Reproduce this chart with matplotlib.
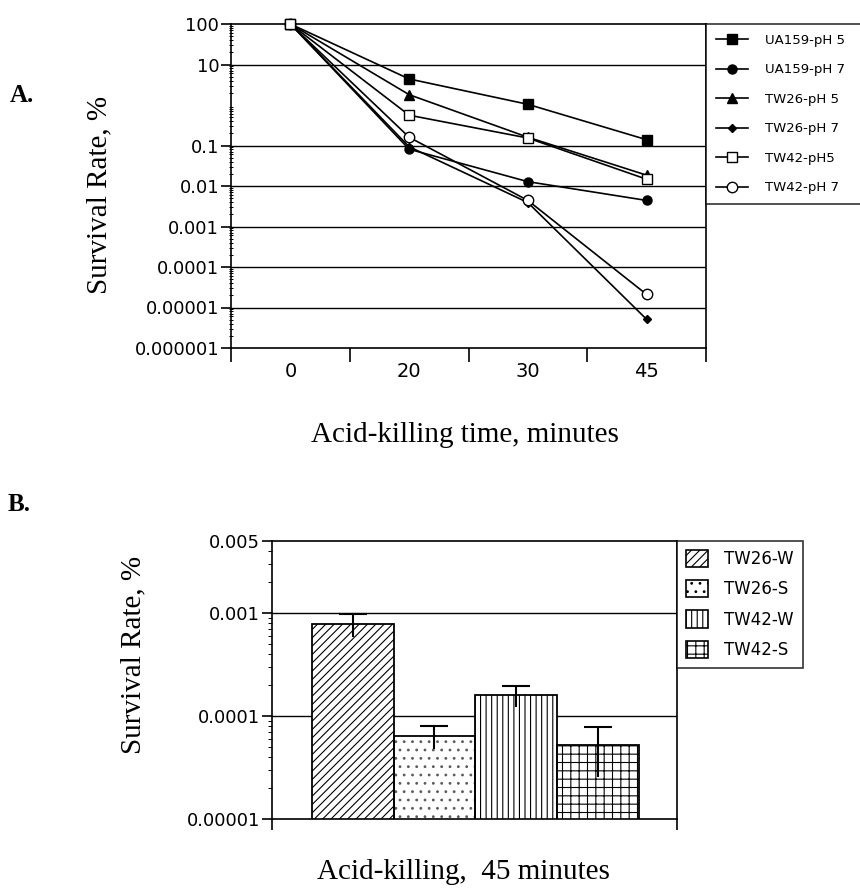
import numpy as np
import matplotlib
matplotlib.use("Agg")
import matplotlib.pyplot as plt
from matplotlib.patches import Patch
from matplotlib.ticker import FixedLocator, NullFormatter

plt.rcParams['font.family'] = 'DejaVu Sans'
plt.rcParams['hatch.linewidth'] = 0.8

##############################
# Donnees - panneau A

temps = ['0', '20', '30', '45']
ua159_ph5 = [100, 4.4, 1.04, 0.139]
ua159_ph7 = [100, 0.081, 0.0128, 0.0044]
tw26_ph5 = [100, 1.8, 0.16, 0.0185]
tw26_ph7 = [100, 0.093, 0.0039, 5.1e-6]
tw42_ph5 = [100, 0.56, 0.153, 0.0147]
tw42_ph7 = [100, 0.16, 0.0044, 2.1e-5]

noms_a = ['UA159-pH 5', 'UA159-pH 7', 'TW26-pH 5', 'TW26-pH 7', 'TW42-pH5', 'TW42-pH 7']

##############################
# Donnees - panneau B

souches = ['TW26-W', 'TW26-S', 'TW42-W', 'TW42-S']
survie_45 = [7.9e-4, 6.4e-5, 1.6e-4, 5.2e-5]
erreur_45 = [2.0e-4, 1.6e-5, 3.6e-5, 2.6e-5]

fig = plt.figure(figsize=(8.6, 8.89), dpi=100)
serif = 'Liberation Serif'

##############################
# Panneau A

ax = fig.add_axes([231/860, 1-348/889, 475/860, 324/889])
x = np.arange(len(temps))
series = [ua159_ph5, ua159_ph7, tw26_ph5, tw26_ph7, tw42_ph7, tw42_ph5]
labels = [noms_a[0], noms_a[1], noms_a[2], noms_a[3], noms_a[5], noms_a[4]]
styles = [('s', 'k', 6.5), ('o', 'k', 6.5), ('^', 'k', 6.5), ('D', 'k', 4.5), ('o', 'white', 7.5), ('s', 'white', 7.5)]
lignes = {}
for ys, lab, (m, fc, ms) in zip(series, labels, styles):
    l, = ax.plot(x, ys, color='k', lw=1.2, marker=m, markerfacecolor=fc,
                 markeredgecolor='k', markeredgewidth=1.0, markersize=ms, label=lab,
                 clip_on=False, zorder=3)
    lignes[lab] = l

ax.set_yscale('log')
ax.set_ylim(1e-6, 100)
ax.set_xlim(-0.5, 3.5)
majeurs = [1e-6, 1e-5, 1e-4, 1e-3, 1e-2, 1e-1, 10, 100]
ax.yaxis.set_major_locator(FixedLocator(majeurs))
ax.set_yticklabels(['0.000001', '0.00001', '0.0001', '0.001', '0.01', '0.1', '10', '100'])
mineurs = [k * 10.0**e for e in range(-6, 2) for k in range(2, 10)]
ax.yaxis.set_minor_locator(FixedLocator(mineurs))
ax.yaxis.set_minor_formatter(NullFormatter())
for g in majeurs[1:-1]:
    ax.axhline(g, color='k', lw=1.0, zorder=0)

ax.set_xticks(x)
ax.set_xticklabels(temps)
ax.set_xticks(np.arange(-0.5, 4, 1), minor=True)
ax.tick_params(axis='x', which='major', length=0, pad=10, labelsize=14)
ax.tick_params(axis='x', which='minor', length=10, width=1.2, direction='out')
ax.tick_params(axis='y', which='major', length=7, width=1.2, direction='out', pad=1.5, labelsize=13)
ax.tick_params(axis='y', which='minor', length=3, width=0.7, direction='inout')
for s in ax.spines.values():
    s.set_linewidth(1.2)

ordre = noms_a
leg = ax.legend([lignes[n] for n in ordre], ordre, loc='upper left',
                bbox_to_anchor=(1.0, 0.0, 0.36, 1.0), mode='expand',
                borderaxespad=0, frameon=True, fancybox=False, fontsize=9.5,
                handlelength=2.4, handletextpad=1.3, labelspacing=1.25, borderpad=0.75)
leg.get_frame().set_edgecolor('k')
leg.get_frame().set_linewidth(1.2)

fig.text(10/860, 1-95/889, 'A.', family=serif, fontweight='bold', fontsize=18, va='center', ha='left')
fig.text(99/860, 1-195/889, 'Survival Rate, %', family=serif, fontsize=21, rotation=90,
         va='center', ha='center')
fig.text(465/860, 1-435/889, 'Acid-killing time, minutes', family=serif, fontsize=21,
         va='center', ha='center')

##############################
# Panneau B

bx = fig.add_axes([272/860, 1-819.3/889, 405/860, 278.3/889])
xb = np.arange(len(souches))
hachures = ['////', '..', '|||', '++']
couleurs_h = ['k', '#5a5a5a', 'k', 'k']
for xi, v, h, c in zip(xb, survie_45, hachures, couleurs_h):
    bx.bar(xi, v, width=1.0, color='white', edgecolor=c, hatch=h, lw=0, zorder=2)
    bx.bar(xi, v, width=1.0, fill=False, edgecolor='k', lw=1.3, zorder=3)

haut = np.array(survie_45) + np.array(erreur_45)
bx.errorbar(xb, survie_45, yerr=erreur_45, fmt='none', ecolor='k', elinewidth=1.5, capsize=0, zorder=4)
bx.plot(xb, haut, ls='none', marker='_', markersize=20, markeredgewidth=1.5, color='k', zorder=4)

bx.set_yscale('log')
bx.set_ylim(1e-5, 5e-3)
bx.set_xlim(-0.99, 3.97)
majeurs_b = [1e-5, 1e-4, 1e-3, 5e-3]
bx.yaxis.set_major_locator(FixedLocator(majeurs_b))
bx.set_yticklabels(['0.00001', '0.0001', '0.001', '0.005'])
mineurs_b = [k * 10.0**e for e in range(-5, -2) for k in range(2, 10)]
bx.yaxis.set_minor_locator(FixedLocator(mineurs_b))
bx.yaxis.set_minor_formatter(NullFormatter())
for g in [1e-4, 1e-3]:
    bx.axhline(g, color='k', lw=1.0, zorder=1)
bx.set_xticks([-0.99, 3.97])
bx.set_xticklabels(['', ''])
bx.tick_params(axis='x', length=8, width=1.2, direction='out')
bx.tick_params(axis='y', which='major', length=7, width=1.2, direction='out', pad=1.5, labelsize=13)
bx.tick_params(axis='y', which='minor', length=3, width=0.7, direction='out')
for s in bx.spines.values():
    s.set_linewidth(1.2)

poignees = [Patch(facecolor='white', edgecolor='k', hatch=h, lw=1.2) for h in hachures]
legb = bx.legend(poignees, souches, loc='upper left', bbox_to_anchor=(1.0, 1.0),
                 borderaxespad=0, frameon=True, fancybox=False, fontsize=12,
                 handlelength=1.3, handleheight=1.2, handletextpad=1.0, labelspacing=0.72,
                 borderpad=0.55)
legb.get_frame().set_edgecolor('k')
legb.get_frame().set_linewidth(1.2)

fig.text(8/860, 1-505/889, 'B.', family=serif, fontweight='bold', fontsize=18, va='center', ha='left')
fig.text(133/860, 1-655/889, 'Survival Rate, %', family=serif, fontsize=21, rotation=90,
         va='center', ha='center')
fig.text(463/860, 1-872/889, 'Acid-killing,  45 minutes', family=serif, fontsize=21,
         va='center', ha='center')

fig.savefig('out.png', dpi=100)
